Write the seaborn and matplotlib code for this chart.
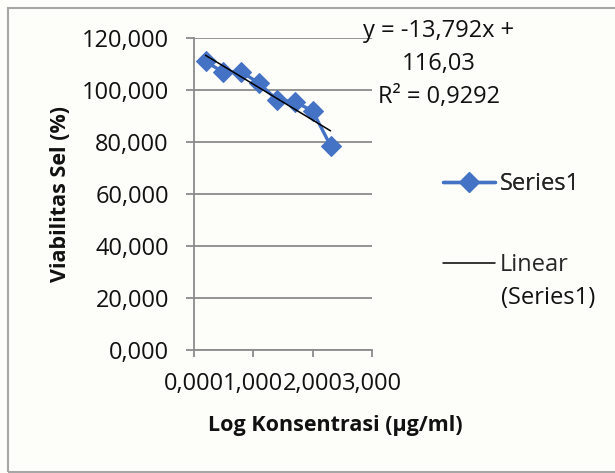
import matplotlib
matplotlib.use('Agg')
import matplotlib.pyplot as plt
import seaborn as sns
import pandas as pd
from matplotlib.patches import Rectangle

# data
log_konsentrasi = [0.194, 0.495, 0.796, 1.097, 1.398, 1.699, 2.000, 2.301]
viabilitas = [111.0, 106.8, 107.0, 102.6, 96.2, 95.5, 91.9, 78.6]
slope = -13.792
intercept = 116.03
eq_lines = ['y = -13,792x +', '116,03', 'R² = 0,9292']
y_ticks = [0, 20, 40, 60, 80, 100, 120]
x_ticks = [0, 1, 2, 3]
y_ticklabels = ['0,000', '20,000', '40,000', '60,000', '80,000', '100,000', '120,000']
x_ticklabels = ['0,000', '1,000', '2,000', '3,000']

df = pd.DataFrame({'x': log_konsentrasi, 'y': viabilitas})
df['trend'] = slope * df['x'] + intercept

sns.set_theme(style='white')
plt.rcParams['font.family'] = ['Open Sans', 'DejaVu Sans']

W, H = 615, 473
FS = 17
fig = plt.figure(figsize=(W / 100, H / 100), dpi=100)
fig.patch.set_facecolor('#fdfdf9')

# chart border
fig.patches.append(Rectangle((7.5 / W, 1 - 471.5 / H), 1.0, (471.5 - 8.5) / H,
                             transform=fig.transFigure, fill=False,
                             edgecolor='#a6a6a6', lw=1.5))

ax = fig.add_axes([194 / W, 1 - 350 / H, 178 / W, 312 / H])
ax.set_facecolor('none')

sns.lineplot(data=df, x='x', y='y', ax=ax, color='#4472c4', lw=2.4,
             marker='D', markersize=10, markeredgecolor='#4472c4',
             label='Series1', zorder=3)
sns.lineplot(data=df, x='x', y='trend', ax=ax, color='black', lw=1.1,
             label='Linear', zorder=4)

ax.set_xlim(0, 3)
ax.set_ylim(0, 120)
ax.set_xticks(x_ticks)
ax.set_xticklabels(x_ticklabels)
ax.set_yticks(y_ticks)
ax.set_yticklabels(y_ticklabels)
ax.yaxis.grid(True, color='#8c8c8c', lw=1.3)
ax.set_axisbelow(True)
for s in ['top', 'right']:
    ax.spines[s].set_visible(False)
for s in ['left', 'bottom']:
    ax.spines[s].set_color('#8c8c8c')
    ax.spines[s].set_linewidth(1.3)
ax.tick_params(axis='y', length=6, width=1.3, color='#8c8c8c', pad=12,
               labelsize=FS, labelcolor='#111111', left=True)
ax.tick_params(axis='x', length=5, width=1.3, color='#8c8c8c', pad=11,
               labelsize=FS, labelcolor='#111111', bottom=True)
ax.set_xlabel('')
ax.set_ylabel('')

fig.text(61 / W, 1 - 194 / H, 'Viabilitas Sel (%)', rotation=90, ha='center',
         va='center', fontsize=15.5, fontweight='bold', color='#111111')
fig.text(335 / W, 1 - 425 / H, 'Log Konsentrasi (µg/ml)', ha='center',
         va='center', fontsize=15.5, fontweight='bold', color='#111111')

for i, t in enumerate(eq_lines):
    fig.text(439 / W, 1 - (31 + 33 * i) / H, t, ha='center', va='center',
             fontsize=FS, color='#111111')

handles, labels = ax.get_legend_handles_labels()
ax.get_legend().remove()
leg1 = fig.legend([handles[0]], [labels[0]], loc='center left',
                  bbox_to_anchor=(443 / W, 1 - 184 / H), frameon=False,
                  fontsize=FS, handlelength=2.2, handletextpad=0.2,
                  borderpad=0, borderaxespad=0)
fig.add_artist(leg1)
fig.legend([handles[1]], [labels[1]], loc='center left',
           bbox_to_anchor=(443 / W, 1 - 265 / H), frameon=False,
           fontsize=FS, handlelength=2.2, handletextpad=0.2,
           borderpad=0, borderaxespad=0)
fig.text(501 / W, 1 - 298 / H, '(Series1)', ha='left', va='center',
         fontsize=FS, color='#111111')

fig.savefig('out.png', dpi=100, facecolor=fig.get_facecolor())
